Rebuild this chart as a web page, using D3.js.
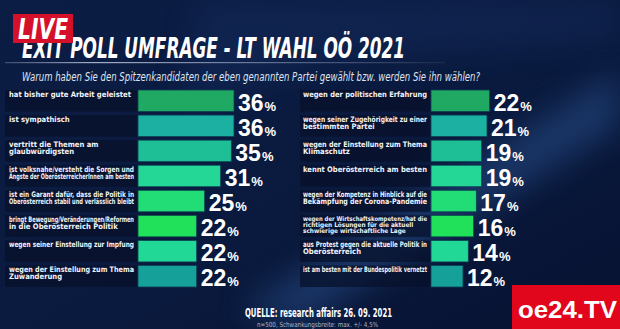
<!DOCTYPE html>
<html>
<head>
<meta charset="utf-8">
<script src="https://cdn.jsdelivr.net/npm/d3@7"></script>
<style>
  html, body { margin: 0; padding: 0; background: #0a1736; }
  svg { display: block; }
</style>
</head>
<body>
<svg class="theSvg" width="620" height="329"></svg>
<script>
// data
var leftLabels = [
  ["hat bisher gute Arbeit geleistet"],
  ["ist sympathisch"],
  ["vertritt die Themen am", "glaubwürdigsten"],
  ["ist volksnahe/versteht die Sorgen und", "Ängste der OberösterreicherInnen am besten"],
  ["ist ein Garant dafür, dass die Politik in", "Oberösterreich stabil und verlässlich bleibt"],
  ["bringt Bewegung/Veränderungen/Reformen", "in die Oberösterreich Politik"],
  ["wegen seiner Einstellung zur Impfung"],
  ["wegen der Einstellung zum Thema", "Zuwanderung"]
];
var leftValues = [36, 36, 35, 31, 25, 22, 22, 22];

var rightLabels = [
  ["wegen der politischen Erfahrung"],
  ["wegen seiner Zugehörigkeit zu einer", "bestimmten Partei"],
  ["wegen der Einstellung zum Thema", "Klimaschutz"],
  ["kennt Oberösterreich am besten"],
  ["wegen der Kompetenz in Hinblick auf die", "Bekämpfung der Corona-Pandemie"],
  ["wegen der Wirtschaftskompetenz/hat die", "richtigen Lösungen für die aktuell", "schwierige wirtschaftliche Lage"],
  ["aus Protest gegen die aktuelle Politik in", "Oberösterreich"],
  ["ist am besten mit der Bundespolitik vernetzt"]
];
var rightValues = [22, 21, 19, 19, 17, 16, 14, 12];

var rowColors = ["#1fa963", "#1bb0a2", "#1ebf96", "#25d796", "#22dc76", "#21e05a", "#22d896", "#16a09a"];

var titleText = "EXIT POLL UMFRAGE - LT WAHL OÖ 2021";
var subtitleText = "Warum haben Sie den Spitzenkandidaten der eben genannten Partei gewählt bzw. werden Sie ihn wählen?";
var sourceText = "QUELLE: research affairs 26. 09. 2021";
var noteText = "n=500, Schwankungsbreite: max. +/- 4,5%";

var condensed = "'Liberation Sans Narrow', 'DejaVu Sans Condensed', 'Liberation Sans', sans-serif";

var svg = d3.select(".theSvg");
var defs = svg.append("defs");

// background
var bg = defs.append("linearGradient").attr("id", "bg")
  .attr("x1", 0).attr("y1", 0).attr("x2", 1).attr("y2", 1);
bg.append("stop").attr("offset", 0).attr("stop-color", "#0c1d45");
bg.append("stop").attr("offset", 0.55).attr("stop-color", "#0a1a3e");
bg.append("stop").attr("offset", 1).attr("stop-color", "#071231");
svg.append("rect").attr("width", 620).attr("height", 329).attr("fill", "url(#bg)");

var blur = defs.append("filter").attr("id", "blur").attr("x", -0.5).attr("y", -0.5).attr("width", 2).attr("height", 2);
blur.append("feGaussianBlur").attr("stdDeviation", 16);
svg.append("path")
  .attr("d", "M240,310 L620,70 L620,125 L300,325 Z")
  .attr("fill", "#3060a5").attr("opacity", 0.42).attr("filter", "url(#blur)");
svg.append("path")
  .attr("d", "M180,110 L330,60 L620,40 L620,0 L200,0 Z")
  .attr("fill", "#1c3a78").attr("opacity", 0.25).attr("filter", "url(#blur)");

// title block
svg.append("text")
  .attr("x", 22).attr("y", 58)
  .attr("font-family", condensed)
  .attr("font-weight", "bold").attr("font-style", "italic")
  .attr("font-size", 29)
  .attr("fill", "#fff")
  .attr("textLength", 383).attr("lengthAdjust", "spacingAndGlyphs")
  .text(titleText);

var lineGrad = defs.append("linearGradient").attr("id", "lineGrad");
lineGrad.append("stop").attr("offset", 0).attr("stop-color", "#8d99b3").attr("stop-opacity", 0.4);
lineGrad.append("stop").attr("offset", 0.2).attr("stop-color", "#a5b0c6");
lineGrad.append("stop").attr("offset", 1).attr("stop-color", "#a5b0c6").attr("stop-opacity", 0.1);
svg.append("rect").attr("x", 5).attr("y", 62).attr("width", 440).attr("height", 1.2).attr("fill", "url(#lineGrad)");

svg.append("text")
  .attr("x", 22).attr("y", 81)
  .attr("font-family", condensed)
  .attr("font-style", "italic")
  .attr("font-size", 12)
  .attr("fill", "#dfe4ee")
  .attr("textLength", 458).attr("lengthAdjust", "spacingAndGlyphs")
  .text(subtitleText);

// LIVE badge sits on top of the title
var live = svg.append("g").attr("transform", "translate(13,14)");
live.append("rect").attr("width", 60).attr("height", 29).attr("fill", "#d5102b");
live.append("text")
  .attr("x", 5).attr("y", 25)
  .attr("font-family", condensed)
  .attr("font-weight", "bold").attr("font-style", "italic")
  .attr("font-size", 29).attr("fill", "#fff")
  .attr("textLength", 50).attr("lengthAdjust", "spacingAndGlyphs")
  .text("LIVE");

// scales
var x = d3.scaleLinear().domain([0, 36]).range([0, 96]);
var y = d3.scaleBand().domain(d3.range(8)).range([90, 287]).paddingInner(0.14);

function drawPanel(labels, values, bandX, barX, labelX) {
  var panel = svg.append("g");
  var rows = panel.selectAll(".row")
    .data(values)
    .enter()
    .append("g")
    .attr("class", "row")
    .attr("transform", function(d, i){ return "translate(0," + y(i) + ")"; });

  rows.append("rect")
    .attr("x", bandX).attr("width", barX - bandX - 1)
    .attr("height", y.bandwidth())
    .attr("fill", "#07102a").attr("opacity", 0.7);

  rows.append("rect")
    .attr("x", barX)
    .attr("width", function(d){ return x(d); })
    .attr("height", y.bandwidth())
    .attr("fill", function(d, i){ return rowColors[i]; })
    .attr("stroke", "#0b3f52").attr("stroke-width", 0.8);

  rows.each(function(d, i){
    var g = d3.select(this);
    var lines = labels[i];
    var three = lines.length > 2;
    lines.forEach(function(line, j){
      var t = g.append("text")
        .attr("x", labelX).attr("y", (three ? 5.8 : 7) + j * (three ? 6 : 6.8))
        .attr("font-family", condensed)
        .attr("font-weight", "bold")
        .attr("font-size", three ? 6.4 : 7.6)
        .attr("fill", "#f2f4f8")
        .text(line);
      var maxW = barX - labelX - 4;
      var w = t.node().getComputedTextLength();
      if (w > maxW) t.attr("textLength", maxW).attr("lengthAdjust", "spacingAndGlyphs");
    });
  });

  var val = rows.append("text")
    .attr("x", function(d){ return barX + x(d) + 4; })
    .attr("y", y.bandwidth() - 1)
    .attr("font-family", "'Liberation Sans', Arial, sans-serif")
    .attr("font-weight", "bold")
    .attr("fill", "#fff");
  val.append("tspan").attr("font-size", 23).text(function(d){ return d; });
  val.append("tspan").attr("font-size", 13).attr("dx", 1).text("%");
}

drawPanel(leftLabels, leftValues, 5, 138, 9);
drawPanel(rightLabels, rightValues, 300, 431, 303);

// footer
svg.append("text")
  .attr("x", 245).attr("y", 317)
  .attr("font-family", condensed)
  .attr("font-weight", "bold").attr("font-size", 12.5)
  .attr("fill", "#fff")
  .attr("textLength", 147).attr("lengthAdjust", "spacingAndGlyphs")
  .text(sourceText);
svg.append("text")
  .attr("x", 257).attr("y", 326.5)
  .attr("font-family", condensed)
  .attr("font-size", 7)
  .attr("fill", "#aeb6c8")
  .attr("textLength", 121).attr("lengthAdjust", "spacingAndGlyphs")
  .text(noteText);

// logo
var logo = svg.append("g").attr("transform", "translate(512,285)");
logo.append("rect").attr("width", 108).attr("height", 44).attr("fill", "#e2061c");
logo.append("text")
  .attr("x", 6).attr("y", 33)
  .attr("font-family", "'Liberation Sans', Arial, sans-serif")
  .attr("font-weight", "bold").attr("font-size", 24)
  .attr("fill", "#fff")
  .attr("textLength", 99).attr("lengthAdjust", "spacingAndGlyphs")
  .text("oe24.TV");
</script>
</body>
</html>
